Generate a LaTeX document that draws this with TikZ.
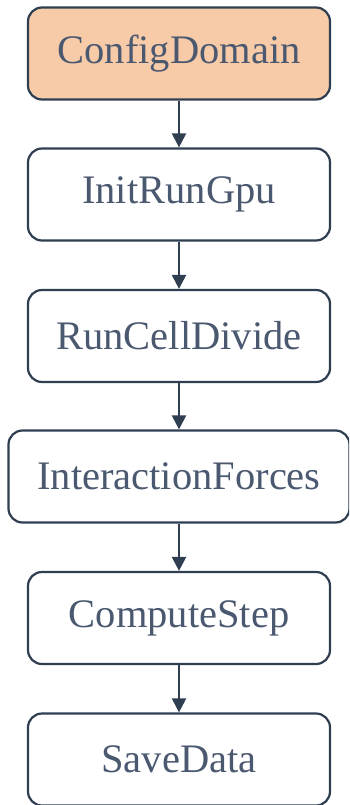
\documentclass[tikz,border=0pt]{standalone}
\usepackage{fontspec}
\setmainfont{Liberation Serif}
\usetikzlibrary{arrows.meta}
\definecolor{edgec}{HTML}{2F3E50}
\definecolor{peach}{HTML}{F8CBA8}
\definecolor{txtc}{HTML}{4A5870}
\tikzset{
  box/.style={draw=edgec, line width=2.2pt, rounded corners=14pt, minimum width=302pt, minimum height=92pt, inner sep=0pt, text=txtc, font=\fontsize{40.5}{42}\selectfont, fill=white},
  flow/.style={draw=edgec, line width=2.2pt, -{Triangle[length=14pt,width=14pt]}}
}
\begin{document}
\begin{tikzpicture}[x=1pt,y=1pt]
\useasboundingbox (0,0) rectangle (349,-805);
\begin{scope}
\clip (0,0) rectangle (349,-805);
\node[box, fill=peach] (a) at (179,-53.5) {ConfigDomain};
\node[box] (b) at (179,-194.5) {InitRunGpu};
\node[box] (c) at (179,-336) {RunCellDivide};
\node[box, minimum width=341pt] (d) at (179,-476.5) {InteractionForces};
\node[box] (e) at (179,-618) {ComputeStep};
\node[box] (f) at (179,-759.5) {SaveData};
\draw[flow] (a) -- (b);
\draw[flow] (b) -- (c);
\draw[flow] (c) -- (d);
\draw[flow] (d) -- (e);
\draw[flow] (e) -- (f);
\end{scope}
\end{tikzpicture}
\end{document}
